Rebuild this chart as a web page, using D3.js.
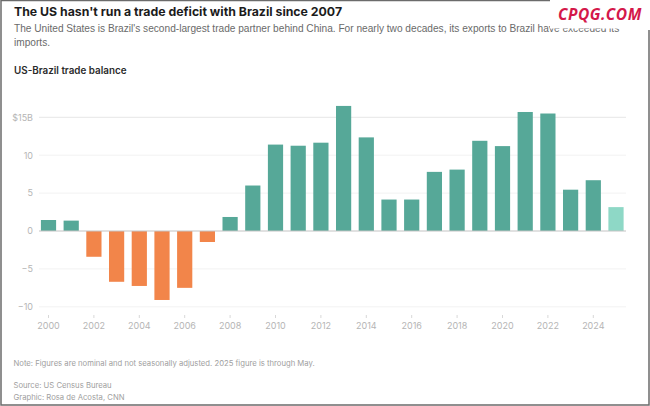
<!DOCTYPE html>
<html><head><meta charset="utf-8">
<script src="https://cdn.jsdelivr.net/npm/d3@7/dist/d3.min.js"></script>
<style>html,body{margin:0;padding:0;background:#fff}svg{display:block}text{font-family:Inter,"Noto Sans",sans-serif}</style>
</head><body><svg id="c" width="650" height="406"></svg>
<script>
const years=["2000","2001","2002","2003","2004","2005","2006","2007","2008","2009","2010","2011","2012","2013","2014","2015","2016","2017","2018","2019","2020","2021","2022","2023","2024","2025"];
const balance=[1.45,1.37,-3.4,-6.7,-7.25,-9.1,-7.5,-1.45,1.85,6.0,11.4,11.25,11.65,16.5,12.35,4.15,4.15,7.8,8.1,11.9,11.2,15.7,15.5,5.45,6.7,3.15];
const xTicks=["2000","2002","2004","2006","2008","2010","2012","2014","2016","2018","2020","2022","2024"];
const yTicks=[-10,-5,0,5,10,15];
const partialYear="2025";
const title="The US hasn't run a trade deficit with Brazil since 2007";
const subtitle=["The United States is Brazil's second-largest trade partner behind China. For nearly two decades, its exports to Brazil have exceeded its","imports."];
const chartLabel="US-Brazil trade balance";
const notes=["Note: Figures are nominal and not seasonally adjusted. 2025 figure is through May.","Source: US Census Bureau","Graphic: Rosa de Acosta, CNN"];
const watermark="CPQG.COM";

const svg=d3.select("#c");
const x=d3.scaleBand().domain(years).range([37.15,627.35]).paddingInner(.33).paddingOuter(.165);
const y=d3.scaleLinear().domain([0,15]).range([231,117.3]);
const color=d=>d.year===partialYear?"#8ed8c6":d.value<0?"#f2854a":"#56a898";
const data=years.map((year,i)=>({year,value:balance[i]}));

const yAxis=d3.axisLeft(y).tickValues(yTicks).tickSize(0).tickPadding(0)
  .tickFormat(d=>d===15?"$15B":d<0?"\u2212"+Math.abs(d):d);
const gy=svg.append("g").attr("transform","translate(33,0)").call(yAxis);
gy.select(".domain").remove();
gy.selectAll("text").attr("fill","#b5b5b5").style("font-size","9px");
svg.append("g").selectAll("line").data(yTicks.filter(d=>d!==0)).join("line")
  .attr("x1",39).attr("x2",626).attr("y1",d=>y(d)).attr("y2",d=>y(d))
  .attr("stroke",d=>d===15?"#e6e6e6":"#f2f2f2").attr("stroke-width",1);

svg.append("g").selectAll("rect").data(data).join("rect")
  .attr("x",d=>x(d.year)).attr("width",x.bandwidth())
  .attr("y",d=>y(Math.max(0,d.value)))
  .attr("height",d=>Math.abs(y(d.value)-y(0)))
  .attr("fill",color);
svg.append("line").attr("x1",39).attr("x2",626).attr("y1",y(0)).attr("y2",y(0))
  .attr("stroke","#c4c4c4").attr("stroke-width",1.2);

const xAxis=d3.axisBottom(x).tickValues(xTicks).tickSize(3).tickPadding(5);
const gx=svg.append("g").attr("transform","translate(0,315)").call(xAxis);
gx.select(".domain").remove();
gx.selectAll("line").attr("stroke","#d8d8d8");
gx.selectAll("text").attr("fill","#b5b5b5").style("font-size","9px");

svg.append("text").attr("x",14).attr("y",15.5).text(title).attr("fill","#1c1c1c").style("font-size","12.3px").style("font-weight",700);
svg.append("g").selectAll("text").data(subtitle).join("text").attr("x",14).attr("y",(d,i)=>32+i*14).text(d=>d)
  .attr("fill","#6a6a6a").style("font-family","'Liberation Sans'").style("font-size","10.15px");
svg.append("text").attr("x",14).attr("y",74).text(chartLabel).attr("fill","#2b2b2b").style("font-size","9.85px").style("font-weight",600);
svg.append("g").selectAll("text").data(notes).join("text").attr("x",13.5).attr("y",(d,i)=>[366,388,399.5][i]).text(d=>d)
  .attr("fill","#a0a0a0").style("font-size","7.7px");

svg.append("rect").attr("x",550).attr("y",0).attr("width",100).attr("height",28.5).attr("fill","#fff");
svg.append("text").attr("x",558).attr("y",19.5).text(watermark).attr("fill","#d4184a")
  .style("font-family","'Open Sans'").style("font-style","italic").style("font-weight",700).style("font-size","15.5px").style("letter-spacing","0.5px");
svg.append("path").attr("d","M550 .5H1V405H649V30").attr("fill","none").attr("stroke","#6b6b6b").attr("stroke-width",1.5);
</script></body></html>
